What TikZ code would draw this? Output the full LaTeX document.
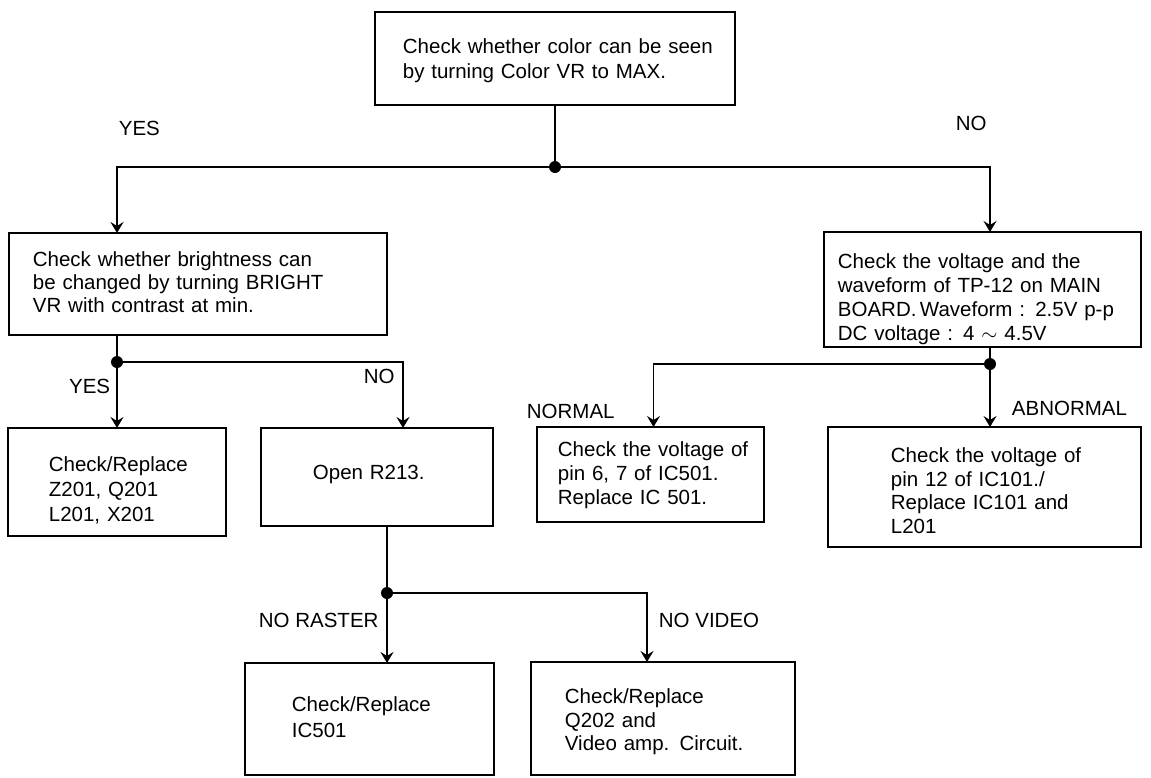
\documentclass[tikz,border=0pt]{standalone}
\usepackage{fontspec}
\setmainfont{Liberation Sans}
\usetikzlibrary{arrows.meta}
\begin{document}
\begin{tikzpicture}[x=1pt,y=-1pt,
  line width=1.8pt,
  box/.style={draw, line width=1.8pt, inner sep=0pt, outer sep=0pt, anchor=north west},
  txt/.style={inner sep=0pt, anchor=north west, align=left, text width=330pt,
    font=\fontsize{20.5}{#1}\selectfont},
  txt/.default=24,
  lbl/.style={inner sep=0pt, anchor=base west, font=\fontsize{20.5}{24}\selectfont},
  dot/.style={circle, fill=black, inner sep=0pt, minimum size=12pt},
  flow/.style={-{Stealth[length=11pt,width=13pt,inset=4pt]}}
]
\useasboundingbox (0,0) rectangle (1151,777);

% boxes
\node[box, minimum width=360pt, minimum height=93pt]  (top)    at (375,12)  {};
\node[box, minimum width=378pt, minimum height=102pt] (bright) at (9,233)   {};
\node[box, minimum width=317pt, minimum height=115pt] (tp)     at (824,232) {};
\node[box, minimum width=218pt, minimum height=108pt] (zbox)   at (8,428)   {};
\node[box, minimum width=232pt, minimum height=98pt]  (rbox)   at (261,428) {};
\node[box, minimum width=227pt, minimum height=95pt]  (nbox)   at (537,427) {};
\node[box, minimum width=313pt, minimum height=120pt] (abox)   at (828,427) {};
\node[box, minimum width=249pt, minimum height=112pt] (icbox)  at (245,663) {};
\node[box, minimum width=264pt, minimum height=113pt] (qbox)   at (531,662) {};

% box texts
\node[txt=25]   (ttop)    at (402,38)  {Check whether color can be seen\\by turning Color VR to MAX.};
\node[txt=23]   (tbright) at (32,251)  {Check whether brightness can\\be changed by turning BRIGHT\\VR with contrast at min.};
\node[txt=24]   (ttp)     at (837,253) {Check the voltage and the\\waveform of TP-12 on MAIN\\BOARD.\,Waveform : 2.5V p-p\\DC voltage : 4 $\sim$ 4.5V};
\node[txt=25]   (tz)      at (48,456)  {Check/Replace\\Z201, Q201\\L201, X201};
\node[txt]      (tr)      at (312,464) {Open R213.};
\node[txt=24]   (tn)      at (557,441) {Check the voltage of\\pin 6, 7 of IC501.\\Replace IC 501.};
\node[txt=23.5] (ta)      at (890,447) {Check the voltage of\\pin 12 of IC101./\\Replace IC101 and\\L201};
\node[txt=26]   (tic)     at (291,696) {Check/Replace\\IC501};
\node[txt=23.5] (tq)      at (564,688) {Check/Replace\\Q202 and\\Video amp. Circuit.};

% junction dots
\node[dot] (d1) at (555,167) {};
\node[dot] (d2) at (117,362) {};
\node[dot] (d3) at (387,593) {};
\node[dot] (d4) at (990,364) {};

% connectors
\draw (top.south -| d1) -- (d1.center);
\draw[flow] (d1.center) -| (bright.north -| d2);
\draw[flow] (d1.center) -| (tp.north -| d4);

\draw (bright.south -| d2) -- (d2.center);
\draw[flow] (d2.center) -- (zbox.north -| d2);
\draw[flow] (d2.center) -| ([xshift=26pt]rbox.north);

\draw (rbox.south -| d3) -- (d3.center);
\draw[flow] (d3.center) -- (icbox.north -| d3);
\draw[flow] (d3.center) -| ([xshift=-16pt]qbox.north);

\draw (tp.south -| d4) -- (d4.center);
\draw[flow] (d4.center) -- (abox.north -| d4);
\draw[flow] (d4.center) -| ([xshift=3pt]nbox.north);

% branch labels
\node[lbl] (yes1) at (118,135) {YES};
\node[lbl] (no1)  at (955,130) {NO};
\node[lbl, anchor=base east] (yes2) at (111,393) {YES};
\node[lbl] (no2)  at (363,383) {NO};
\node[lbl] (norm) at (526,418) {NORMAL};
\node[lbl] (abn)  at (1011,415) {ABNORMAL};
\node[lbl] (nras) at (258,627) {NO RASTER};
\node[lbl] (nvid) at (658,627) {NO VIDEO};
\end{tikzpicture}
\end{document}
